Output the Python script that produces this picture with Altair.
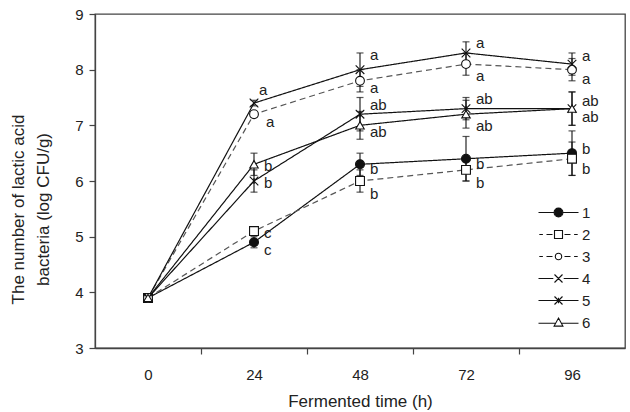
import altair as alt
import pandas as pd

# Sampling times (h)
hours = [0, 24, 48, 72, 96]
series_names = ["1", "2", "3", "4", "5", "6"]

# Lactic acid bacteria counts, log CFU/g (mean)
mean_1 = [3.9, 4.9, 6.3, 6.4, 6.5]
mean_2 = [3.9, 5.1, 6.0, 6.2, 6.4]
mean_3 = [3.9, 7.2, 7.8, 8.1, 8.0]
mean_4 = [3.9, 7.4, 8.0, 8.3, 8.1]
mean_5 = [3.9, 6.0, 7.2, 7.3, 7.3]
mean_6 = [3.9, 6.3, 7.0, 7.2, 7.3]

# Standard deviations
sd_1 = [0.03, 0.10, 0.20, 0.40, 0.40]
sd_2 = [0.03, 0.05, 0.20, 0.20, 0.30]
sd_3 = [0.03, 0.05, 0.20, 0.20, 0.20]
sd_4 = [0.03, 0.05, 0.30, 0.20, 0.20]
sd_5 = [0.03, 0.20, 0.30, 0.20, 0.30]
sd_6 = [0.03, 0.20, 0.25, 0.25, 0.30]

# Significance letters
letters_1 = ["", "c", "b", "b", "b"]
letters_2 = ["", "c", "b", "b", "b"]
letters_3 = ["", "a", "a", "a", "a"]
letters_4 = ["", "a", "a", "a", "a"]
letters_5 = ["", "b", "ab", "ab", "ab"]
letters_6 = ["", "b", "ab", "ab", "ab"]

means = [mean_1, mean_2, mean_3, mean_4, mean_5, mean_6]
sds = [sd_1, sd_2, sd_3, sd_4, sd_5, sd_6]
letters = [letters_1, letters_2, letters_3, letters_4, letters_5, letters_6]

# Pixel offsets of each letter from its point (dx, dy)
letter_offsets = {
    "1": [(0, 0), (10, 8), (10, 5), (10, 5), (10, -4)],
    "2": [(0, 0), (10, 2), (10, 13), (10, 13), (10, 10)],
    "3": [(0, 0), (12, 8), (10, 7), (10, 12), (10, 9)],
    "4": [(0, 0), (5, -13), (10, -15), (10, -10), (10, -8)],
    "5": [(0, 0), (10, 2), (10, -9), (10, -10), (10, -8)],
    "6": [(0, 0), (10, 2), (10, 7), (10, 12), (10, 8)],
}

rows = []
for name, m, s, lt in zip(series_names, means, sds, letters):
    for i, h in enumerate(hours):
        dx, dy = letter_offsets[name][i]
        rows.append({
            "series": name, "hour": h, "value": m[i],
            "lo": m[i] - s[i], "hi": m[i] + s[i],
            "letter": lt[i], "dx": dx, "dy": dy,
        })
df = pd.DataFrame(rows)

INK = "#111111"
FONT = "Liberation Sans"

x_enc = alt.X(
    "hour:Q",
    scale=alt.Scale(domain=[-12, 108], nice=False, zero=False),
    axis=alt.Axis(
        values=[0, 12, 24, 36, 48, 60, 72, 84, 96],
        labelExpr="datum.value % 24 === 0 ? datum.label : ''",
        tickOpacity={"condition": {"test": "datum.value % 24 === 0", "value": 0}, "value": 1},
        labelOverlap=False,
        labelFlush=False,
        tickSize=6,
        labelPadding=13,
        title="Fermented time (h)",
        titlePadding=11,
    ),
)
y_enc = alt.Y(
    "value:Q",
    scale=alt.Scale(domain=[3, 9], nice=False, zero=False),
    axis=alt.Axis(
        values=[3, 4, 5, 6, 7, 8, 9],
        format="d",
        tickSize=6,
        labelPadding=6,
        title=["The number of  lactic acid", "bacteria (log CFU/g)"],
        titleLineHeight=25,
        titlePadding=22,
        titleAlign="center",
        titleY=195,
    ),
)

base = alt.Chart(df)

# Error bars: stems and caps
stems = base.mark_rule(color=INK, strokeWidth=1.1).encode(
    x="hour:Q", y="lo:Q", y2="hi:Q"
)
caps_hi = base.mark_tick(color=INK, orient="horizontal", size=7, thickness=1.2).encode(
    x="hour:Q", y="hi:Q"
)
caps_lo = base.mark_tick(color=INK, orient="horizontal", size=7, thickness=1.2).encode(
    x="hour:Q", y="lo:Q"
)

lines = base.mark_line(strokeWidth=1.2).encode(
    x=x_enc,
    y=y_enc,
    detail="series:N",
    color=alt.Color(
        "series:N",
        scale=alt.Scale(domain=series_names,
                        range=[INK, "#555555", "#555555", INK, INK, INK]),
        legend=None,
    ),
    strokeDash=alt.StrokeDash(
        "series:N",
        scale=alt.Scale(domain=series_names,
                        range=[[1, 0], [6, 4], [6, 4], [1, 0], [1, 0], [1, 0]]),
        legend=None,
    ),
    order="hour:Q",
)

x_path = "M-1,-1L1,1M-1,1L1,-1"
x_bar_path = "M-1,-1L1,1M-1,1L1,-1M0,-0.7L0,0.7"

points = base.mark_point(filled=False, stroke=INK, strokeWidth=1.1, opacity=1).encode(
    x="hour:Q",
    y="value:Q",
    shape=alt.Shape(
        "series:N",
        scale=alt.Scale(domain=series_names,
                        range=["circle", "square", "circle", x_path, x_bar_path, "triangle-up"]),
        legend=None,
    ),
    fill=alt.Fill(
        "series:N",
        scale=alt.Scale(domain=series_names,
                        range=[INK, "white", "white", "white", "white", "white"]),
        legend=None,
    ),
    size=alt.Size(
        "series:N",
        scale=alt.Scale(domain=series_names, range=[80, 72, 64, 64, 64, 72]),
        legend=None,
    ),
)

# Letter annotations, one layer per offset pair
label_layers = []
for dx, dy in sorted({(r["dx"], r["dy"]) for r in rows if r["letter"]}):
    label_layers.append(
        base.transform_filter(
            f"datum.letter !== '' && datum.dx === {dx} && datum.dy === {dy}"
        ).mark_text(
            align="left", baseline="middle", dx=dx, dy=dy,
            font=FONT, fontSize=15, color="#222222",
        ).encode(x="hour:Q", y="value:Q", text="letter:N")
    )

# Legend symbols: a short line with the marker on it
legend_paths = [
    "M-5,0L-1,0M1,0L5,0M-1.1,0A1.1,1.1 0 1,0 1.1,0A1.1,1.1 0 1,0 -1.1,0",
    "M-4.8,0L-3.9,0M-3,0L-1.5,0M1.5,0L3,0M3.9,0L4.8,0M-1,-1L1,-1L1,1L-1,1Z",
    "M-4.8,0L-3.9,0M-3,0L-1.5,0M1.5,0L3,0M3.9,0L4.8,0M-0.8,0A0.8,0.8 0 1,0 0.8,0A0.8,0.8 0 1,0 -0.8,0",
    "M-5,0L-1.3,0M1.3,0L5,0M-1,-1L1,1M-1,1L1,-1",
    "M-5,0L5,0M-1,-1L1,1M-1,1L1,-1M0,-0.7L0,0.7",
    "M-5,0.2L-0.6,0.2M0.6,0.2L5,0.2M0,-1.1L1.1,0.9L-1.1,0.9Z",
]
legend_fills = [INK, "white", "white", "white", "white", "white"]
legend_strokes = [INK] * 6

legend_def = alt.Legend(
    title=None,
    orient="none",
    legendX=456,
    legendY=191,
    symbolSize=64,
    symbolStrokeWidth=1.1,
    symbolOpacity=1,
    labelFontSize=15,
    labelOffset=16,
    labelColor="#222222",
    rowPadding=6,
    padding=0,
)

legend_layer = base.transform_filter("datum.hour === 0").mark_point(
    opacity=0
).encode(
    x="hour:Q",
    y="value:Q",
    shape=alt.Shape("series:N",
                    scale=alt.Scale(domain=series_names, range=legend_paths),
                    legend=legend_def),
    fill=alt.Fill("series:N",
                  scale=alt.Scale(domain=series_names, range=legend_fills),
                  legend=legend_def),
    stroke=alt.Stroke("series:N",
                      scale=alt.Scale(domain=series_names, range=legend_strokes),
                      legend=legend_def),
)

chart = alt.layer(
    lines, stems, caps_hi, caps_lo, points, *label_layers, legend_layer
).resolve_scale(
    shape="independent", fill="independent", stroke="independent"
).properties(
    width=530,
    height=334,
    autosize=alt.AutoSizeParams(type="none"),
    padding={"left": 95, "top": 14, "right": 5, "bottom": 64},
).configure(
    font=FONT,
    background="white",
).configure_view(
    stroke="#444444", strokeWidth=1.3
).configure_axis(
    grid=False,
    domainColor="#444444",
    domainWidth=1.3,
    tickColor="#444444",
    tickWidth=1.2,
    labelColor="#222222",
    titleColor="#222222",
    labelFontSize=15,
    titleFontSize=17,
    titleFontWeight="normal",
    labelFont=FONT,
    titleFont=FONT,
)

chart.save("out.html", embed_options={"renderer": "svg", "actions": False})
